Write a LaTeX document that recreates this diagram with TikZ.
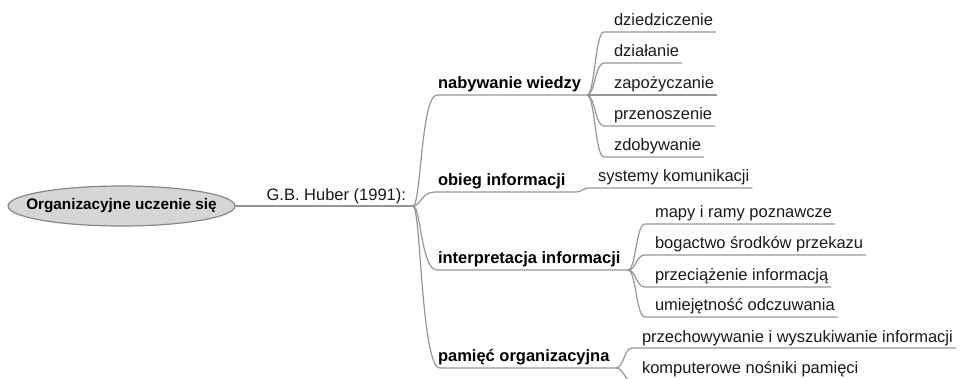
\documentclass[tikz,border=0pt]{standalone}
\usepackage{fontspec}
\setmainfont{Liberation Sans}
\usetikzlibrary{shapes.geometric,calc}
\definecolor{linkgray}{RGB}{150,150,150}
\definecolor{textgray}{RGB}{25,25,25}
\definecolor{ellfill}{RGB}{214,214,214}
\definecolor{elledge}{RGB}{135,135,135}
\begin{document}
\begin{tikzpicture}[x=1pt,y=-1pt,
  conn/.style={draw=linkgray,line width=1.2pt},
  fork/.style={to path={let \p1=(\tikztostart),\p2=(\tikztotarget) in
     .. controls (\x1+#1,\y1) and (\x1+#1,\y2) .. (\tikztotarget)}},
  fork/.default=8pt,
  txt/.style={inner sep=0pt,outer sep=0pt,anchor=base west,text=textgray,
     font=\fontsize{16.5}{19}\selectfont},
  topic/.style={txt,text=black,font=\bfseries\fontsize{16.5}{19}\selectfont},
  rootshape/.style={ellipse,draw=elledge,fill=ellfill,line width=1.2pt,
     minimum width=227pt,minimum height=40pt,inner sep=0pt,outer sep=0pt},
  roottext/.style={inner sep=0pt,text=black,
     font=\bfseries\fontsize{15.3}{18}\selectfont}]
\useasboundingbox (0,0) rectangle (961,378);
\clip (0,0) rectangle (961,378);

% central topic and hub
\node[rootshape] (root) at (121.5,206) {};
\node[roottext] (rootlbl) at (root.center) {Organizacyjne uczenie się};
\coordinate (hub) at (413,206);
\node[txt,anchor=base east] (huber) at (406,200) {G.B. Huber (1991):};
\draw[conn] (root.east) -- (hub);

% main branches
\node[topic] (nab) at (438,88.5) {nabywanie wiedzy};
\node[topic] (obieg) at (438,185.5) {obieg informacji};
\node[topic] (interp) at (438,263.5) {interpretacja informacji};
\node[topic] (pam) at (438,361.5) {pamięć organizacyjna};

\coordinate (nabL) at (437,95);   \coordinate (nabB) at (587,95);
\coordinate (obL) at (435,192);   \coordinate (obB) at (576,192);
\coordinate (intL) at (437,270);  \coordinate (intB) at (628,270);
\coordinate (pamL) at (440,368);  \coordinate (pamB) at (616,368);

\draw[conn] (hub) to[fork] (nabL) -- (nabB);
\draw[conn] (hub) to[fork] (obL) -- (obB);
\draw[conn] (hub) to[fork] (intL) -- (intB);
\draw[conn] (hub) to[fork] (pamL) -- (pamB);

% nabywanie wiedzy
\node[txt] (n1) at (614,25.5) {dziedziczenie};
\node[txt] (n2) at (614,56.5) {działanie};
\node[txt] (n3) at (614,88.5) {zapożyczanie};
\node[txt] (n4) at (614,119.5) {przenoszenie};
\node[txt] (n5) at (614,150.5) {zdobywanie};
\foreach \c/\y in {n1/32,n2/63,n3/95,n4/126,n5/157}{
  \coordinate (L\c) at (604,\y);
  \draw[conn] (nabB) to[fork] (L\c) -- ($(L\c -| \c.east)+(3pt,0)$);
}

% obieg informacji
\node[txt] (s1) at (598,181.5) {systemy komunikacji};
\coordinate (Ls1) at (590,188);
\draw[conn] (obB) to[fork=6pt] (Ls1) -- ($(Ls1 -| s1.east)+(3pt,0)$);

% interpretacja informacji
\node[txt] (i1) at (655,217.5) {mapy i ramy poznawcze};
\node[txt] (i2) at (655,248.5) {bogactwo środków przekazu};
\node[txt] (i3) at (655,280.5) {przeciążenie informacją};
\node[txt] (i4) at (655,310.5) {umiejętność odczuwania};
\foreach \c/\y in {i1/224,i2/255,i3/287,i4/317}{
  \coordinate (L\c) at (645,\y);
  \draw[conn] (intB) to[fork] (L\c) -- ($(L\c -| \c.east)+(3pt,0)$);
}

% pamięć organizacyjna
\node[txt] (p1) at (642,342) {przechowywanie i wyszukiwanie informacji};
\node[txt] (p2) at (642,373.5) {komputerowe nośniki pamięci};
\foreach \c/\y in {p1/348,p2/381}{
  \coordinate (L\c) at (632,\y);
  \draw[conn] (pamB) to[fork] (L\c) -- ($(L\c -| \c.east)+(3pt,0)$);
}
\end{tikzpicture}
\end{document}
